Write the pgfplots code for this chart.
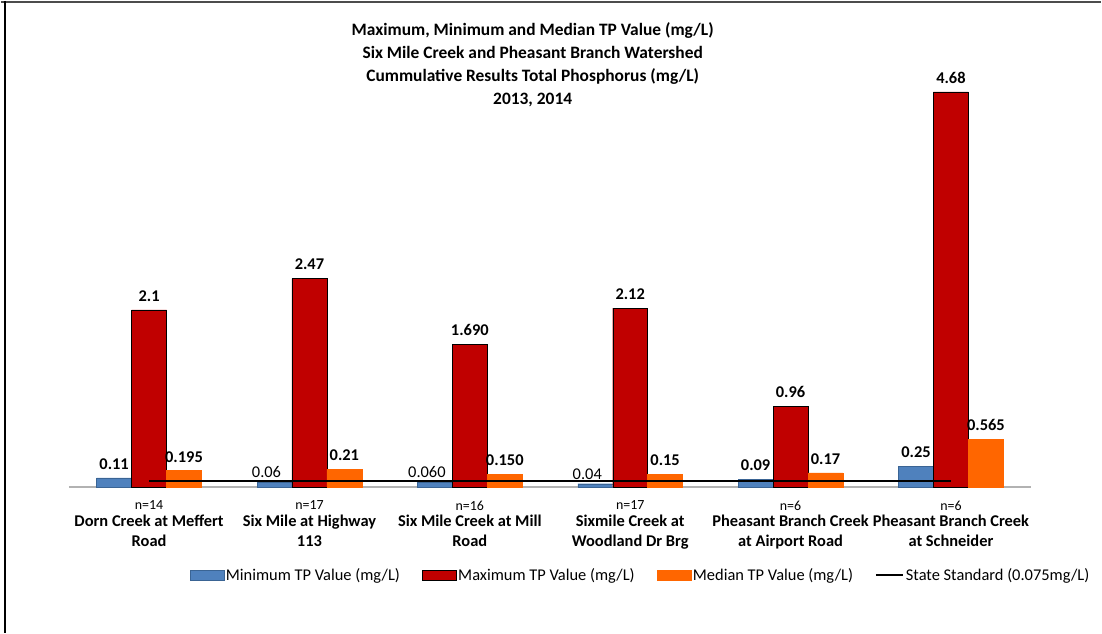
\documentclass[border=0pt]{standalone}
\usepackage{fontspec}
\setmainfont{Carlito}
\usepackage{pgfplots}
\pgfplotsset{compat=1.18}
\definecolor{minblue}{HTML}{4F81BD}
\definecolor{minedge}{HTML}{3A6494}
\definecolor{maxred}{HTML}{C00000}
\definecolor{medorange}{HTML}{FF6600}
\pgfplotsset{
  barleg/.style={legend image code/.code={\draw[##1] (0bp,-5bp) rectangle (34bp,5bp);}},
  lineleg/.style={legend image code/.code={\draw[##1] (0bp,0bp) -- (27bp,0bp);}},
  vallabel/.style={nodes near coords, point meta=explicit symbolic,
    every node near coord/.append style={font=\fontsize{16.5}{18}\selectfont\bfseries, text=black, yshift=5bp}},
}
\newcommand{\nn}[1]{{\fontsize{14}{14}\selectfont\mdseries n=#1}}
\begin{document}
\begin{tikzpicture}
\path (0,0) rectangle (1102bp,-634bp);
\draw[black!70, line width=2bp] (0,-2bp) -- (1102bp,-2bp);
\draw[black, line width=1.5bp] (4bp,-1bp) -- (4bp,-634bp);
\begin{axis}[
  at={(68bp,-488bp)}, anchor=south west,
  scale only axis, width=964bp, height=440bp,
  xmin=-0.5, xmax=5.5, ymin=0, ymax=5.2,
  ybar, bar width=35bp,
  axis y line=none, axis x line*=bottom,
  x axis line style={draw=black!30, line width=1.5bp, -},
  xtick={0,1,2,3,4,5}, major tick length=0pt,
  xticklabels={
    {\nn{14}\\[-3bp]Dorn Creek at Meffert\\Road},
    {\nn{17}\\[-3bp]Six Mile at Highway\\113},
    {\nn{16}\\[-3bp]Six Mile Creek at Mill\\Road},
    {\nn{17}\\[-3bp]Sixmile Creek at\\Woodland Dr Brg},
    {\nn{6}\\[-3bp]Pheasant Branch Creek\\at Airport Road},
    {\nn{6}\\[-3bp]Pheasant Branch Creek\\at Schneider}},
  xticklabel style={align=center, font=\fontsize{16.5}{20}\selectfont\bfseries, text=black, yshift=-10bp},
  clip=false,
  title={Maximum, Minimum and Median TP Value (mg/L)\\Six Mile Creek and Pheasant Branch  Watershed\\Cummulative Results Total Phosphorus (mg/L)\\2013,  2014},
  title style={at={(0.482,1.051)}, anchor=north, align=center, font=\fontsize{17.5}{23}\selectfont\bfseries},
  legend columns=4,
  legend style={at={(0.594,-0.2)}, anchor=center, draw=none, font=\fontsize{16.5}{18}\selectfont,
    /tikz/every even column/.append style={column sep=20bp},
    /tikz/every odd column/.append style={inner xsep=0pt}},
]
\addplot[fill=minblue, draw=minedge, bar shift=-35bp, barleg, vallabel] coordinates {
  (0,0.11) [0.11] (4,0.09) [0.09] (5,0.25) [0.25]};
\addlegendentry{Minimum TP Value (mg/L)}
\addplot[fill=minblue, draw=minedge, bar shift=-35bp, forget plot, nodes near coords, point meta=explicit symbolic,
  every node near coord/.append style={font=\fontsize{16.5}{18}\selectfont, text=black, xshift=-8bp, yshift=1bp}] coordinates {
  (1,0.06) [0.06] (2,0.060) [0.060] (3,0.04) [0.04]};
\addplot[fill=maxred, draw=black, bar shift=0bp, barleg, vallabel] coordinates {
  (0,2.1) [2.1] (1,2.47) [2.47] (2,1.690) [1.690] (3,2.12) [2.12] (4,0.96) [0.96] (5,4.68) [4.68]};
\addlegendentry{Maximum TP Value (mg/L)}
\addplot[fill=medorange, draw=medorange, bar shift=35bp, barleg, vallabel] coordinates {
  (0,0.195) [0.195] (1,0.21) [0.21] (2,0.150) [0.150] (3,0.15) [0.15] (4,0.17) [0.17] (5,0.565) [0.565]};
\addlegendentry{Median TP Value (mg/L)}
\addplot[sharp plot, black, line width=2bp, no marks, lineleg] coordinates {(0,0.075) (5,0.075)};
\addlegendentry{State Standard (0.075mg/L)}
\end{axis}
\end{tikzpicture}
\end{document}
